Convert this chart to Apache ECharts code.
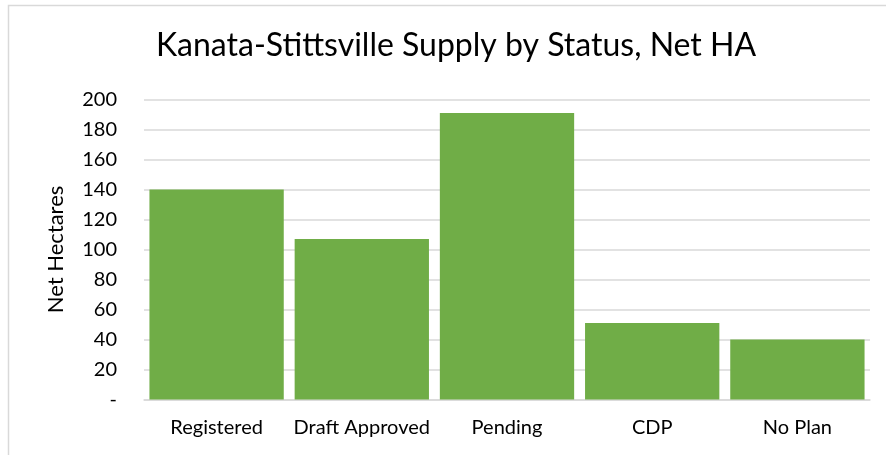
<!DOCTYPE html>
<html>
<head>
<meta charset="utf-8">
<script src="https://cdn.jsdelivr.net/npm/echarts@6/dist/echarts.min.js"></script>
<style>
  html, body { margin: 0; padding: 0; background: #fff; }
  #main { width: 886px; height: 455px; }
</style>
</head>
<body>
<div id="main"></div>
<script>
// values
const categories = ['Registered', 'Draft Approved', 'Pending', 'CDP', 'No Plan'];
const netHectares = [140, 107, 191, 51, 40];
const yTicks = [0, 20, 40, 60, 80, 100, 120, 140, 160, 180, 200];

let myChart = echarts.init(document.getElementById('main'));
myChart.setOption({
  backgroundColor: '#fff',
  textStyle: { fontFamily: 'Lato' },
  graphic: [
    { // chart area border, like the Excel frame
      type: 'rect',
      shape: { x: 8.5, y: 5.5, width: 900, height: 500 },
      style: { fill: null, stroke: '#d9d9d9', lineWidth: 1.5 },
      silent: true
    }
  ],
  title: {
    text: 'Kanata-Stittsville Supply by Status, Net HA',
    left: 151,
    top: 25,
    textStyle: { fontFamily: 'Lato', fontWeight: 'normal', fontSize: 32, color: '#000' }
  },
  grid: { left: 144, right: 16, top: 99.5, bottom: 55.5 },
  xAxis: {
    type: 'category',
    data: categories,
    axisLine: { lineStyle: { color: '#d9d9d9', width: 1.5 } },
    axisTick: { show: false },
    axisLabel: { color: '#000', fontSize: 20, margin: 18, interval: 0, fontFamily: 'Lato' }
  },
  yAxis: {
    type: 'value',
    min: yTicks[0],
    max: yTicks[yTicks.length - 1],
    interval: 20,
    name: 'Net Hectares',
    nameLocation: 'middle',
    nameGap: 77,
    nameTextStyle: { color: '#000', fontSize: 22, fontFamily: 'Lato' },
    axisLine: { show: false },
    axisTick: { show: false },
    splitLine: { lineStyle: { color: '#d9d9d9', width: 1.5 } },
    axisLabel: {
      color: '#000',
      fontSize: 20,
      margin: 27,
      fontFamily: 'Lato',
      formatter: v => v === 0 ? '-' : String(v)
    }
  },
  series: [
    {
      name: 'Net Hectares',
      type: 'bar',
      data: netHectares,
      barCategoryGap: '7.5%',
      itemStyle: { color: '#70ad47' },
      silent: true
    }
  ]
});
</script>
</body>
</html>
